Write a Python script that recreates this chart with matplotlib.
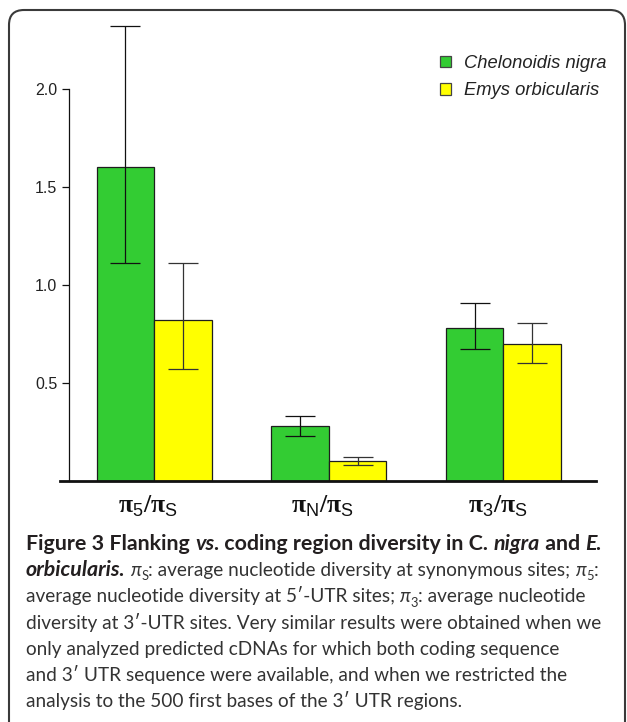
import matplotlib
matplotlib.use('Agg')
import matplotlib.pyplot as plt
from matplotlib.patches import Patch, FancyBboxPatch
from matplotlib.transforms import IdentityTransform, ScaledTranslation

# ---------------- data ----------------
categories = [r'$\mathbf{π}_{\mathsf{5}}\mathbf{/π}_{\mathsf{S}}$',
              r'$\mathbf{π}_{\mathsf{N}}\mathbf{/π}_{\mathsf{S}}$',
              r'$\mathbf{π}_{\mathsf{3}}\mathbf{/π}_{\mathsf{S}}$']
series_names = ['Chelonoidis nigra', 'Emys orbicularis']
nigra = [1.60, 0.28, 0.78]
nigra_upper = [2.32, 0.33, 0.91]
nigra_lower = [1.11, 0.23, 0.675]
emys = [0.82, 0.10, 0.70]
emys_upper = [1.11, 0.12, 0.805]
emys_lower = [0.57, 0.08, 0.60]
yticks = [0.5, 1.0, 1.5, 2.0]
ytick_labels = ['0.5', '1.0', '1.5', '2.0']

caption_lines = [
    [('Figure 3 Flanking ', 'b'), ('vs', 'bi'), ('. coding region diversity in C. ', 'b'),
     ('nigra', 'bi'), (' and ', 'b'), ('E.', 'bi')],
    [('orbicularis.', 'bi'), (' ', 'r'), ('π', 'i'), ('S', 'sub'),
     (': average nucleotide diversity at synonymous sites; ', 'r'), ('π', 'i'), ('5', 'sub'), (':', 'r')],
    [('average nucleotide diversity at 5′-UTR sites; ', 'r'), ('π', 'i'), ('3', 'sub'),
     (': average nucleotide', 'r')],
    [('diversity at 3′-UTR sites. Very similar results were obtained when we', 'r')],
    [('only analyzed predicted cDNAs for which both coding sequence', 'r')],
    [('and 3′ UTR sequence were available, and when we restricted the', 'r')],
    [('analysis to the 500 first bases of the 3′ UTR regions.', 'r')],
]

# ---------------- style ----------------
plt.rcParams['mathtext.fontset'] = 'custom'
plt.rcParams['mathtext.bf'] = 'Liberation Serif:bold'
plt.rcParams['mathtext.rm'] = 'Liberation Sans'
plt.rcParams['mathtext.sf'] = 'Liberation Sans'
plt.rcParams['font.family'] = ['Liberation Sans', 'DejaVu Sans']

W, H = 627, 722
GREEN = '#33cc33'
YELLOW = '#ffff00'
EDGE = '#1e1e1e'
TXT = '#222222'

fig = plt.figure(figsize=(W / 100, H / 100), dpi=100)
ax = fig.add_axes([60 / W, (H - 481) / H, 536 / W, 2.4 * 196 / H])

x = list(range(len(nigra)))
w = 0.33
xg = [i - w / 2 for i in x]
xy = [i + w / 2 for i in x]
err_g = [[m - l for m, l in zip(nigra, nigra_lower)], [u - m for m, u in zip(nigra, nigra_upper)]]
err_y = [[m - l for m, l in zip(emys, emys_lower)], [u - m for m, u in zip(emys, emys_upper)]]

ax.bar(xg, nigra, width=w, color=GREEN, edgecolor=EDGE, linewidth=0.9, zorder=2)
ax.bar(xy, emys, width=w, color=YELLOW, edgecolor=EDGE, linewidth=0.9, zorder=2)
ax.errorbar(xg, nigra, yerr=err_g, fmt='none', ecolor='#111111', elinewidth=0.9,
            capsize=10.5, capthick=0.9, zorder=3)
ax.errorbar(xy, emys, yerr=err_y, fmt='none', ecolor='#333333', elinewidth=0.9,
            capsize=10.5, capthick=0.9, zorder=3)

ax.set_xlim(-0.54, 2.53)
ax.set_ylim(0, 2.4)
for s in ['top', 'right']:
    ax.spines[s].set_visible(False)
ax.spines['left'].set_position(('data', -0.487))
ax.spines['left'].set_bounds(0, 2.0)
ax.spines['left'].set_linewidth(0.9)
ax.spines['left'].set_color('#111111')
ax.spines['bottom'].set_linewidth(2.0)
ax.spines['bottom'].set_color('#111111')
ax.spines['bottom'].set_zorder(4)

ax.set_yticks(yticks)
ax.set_yticklabels(ytick_labels)
ax.tick_params(axis='y', length=5, width=0.9, pad=3.5, labelsize=11.5, labelcolor=TXT, color='#111111')
ax.set_xticks(x)
ax.set_xticklabels(categories)
ax.tick_params(axis='x', length=0, pad=9, labelsize=18.5, labelcolor='#111111')
for lab in ax.get_xticklabels():
    lab.set_transform(lab.get_transform() + ScaledTranslation(-0.06, 0, fig.dpi_scale_trans))

handles = [Patch(facecolor=GREEN, edgecolor='#444444', linewidth=0.9),
           Patch(facecolor=YELLOW, edgecolor='#444444', linewidth=0.9)]
leg = fig.legend(handles, series_names, loc='upper left', bbox_to_anchor=(440 / W, 1 - 55 / H),
                 frameon=False, borderpad=0, borderaxespad=0, handlelength=0.62, handleheight=0.62,
                 handletextpad=0.68, labelspacing=0.55,
                 prop={'family': 'Liberation Sans', 'style': 'italic', 'size': 13.2})
for t in leg.get_texts():
    t.set_color(TXT)

# frame
frame = FancyBboxPatch((0.09, -0.3), 6.16, 7.42, boxstyle='round,pad=0,rounding_size=0.15',
                       transform=fig.dpi_scale_trans, fill=False, linewidth=1.5,
                       edgecolor='#3a3a3a', clip_on=False)
fig.add_artist(frame)

# caption
renderer = fig.canvas.get_renderer()
CAP_FAMILY = ['Lato', 'DejaVu Sans']
BOLD_C = '#231f20'
REG_C = '#333333'


def props(kind, fs, fsb):
    if kind == 'b':
        return dict(fontweight='bold', fontstyle='normal', fontsize=fsb, color=BOLD_C)
    if kind == 'bi':
        return dict(fontweight='bold', fontstyle='italic', fontsize=fsb, color=BOLD_C)
    if kind == 'i':
        return dict(fontweight='normal', fontstyle='italic', fontsize=fs, color=REG_C)
    if kind == 'sub':
        return dict(fontweight='normal', fontstyle='normal', fontsize=fs * 0.68, color=REG_C)
    return dict(fontweight='normal', fontstyle='normal', fontsize=fs, color=REG_C)


def text_width(s, p):
    t1 = fig.text(0, 0, 'x' + s + 'x', transform=IdentityTransform(), family=CAP_FAMILY, **p)
    t2 = fig.text(0, 0, 'xx', transform=IdentityTransform(), family=CAP_FAMILY, **p)
    wdt = t1.get_window_extent(renderer).width - t2.get_window_extent(renderer).width
    t1.remove()
    t2.remove()
    return wdt


base = 10.0
ref_w = sum(text_width(s, props(k, base, base)) for s, k in caption_lines[3])
fs = base * 576.0 / ref_w
ref_wb = sum(text_width(s, props(k, base, base)) for s, k in caption_lines[0])
fsb = base * 576.0 / ref_wb

x0 = 26
for li, line in enumerate(caption_lines):
    yb = H - (550 + 26.2 * li)
    xc = x0
    for s, k in line:
        p = props(k, fs, fsb)
        dy = -0.22 * fs * 100 / 72 if k == 'sub' else 0
        fig.text(xc, yb + dy, s, transform=IdentityTransform(), family=CAP_FAMILY,
                 ha='left', va='baseline', **p)
        xc += text_width(s, p)

fig.savefig('out.png', dpi=100)
